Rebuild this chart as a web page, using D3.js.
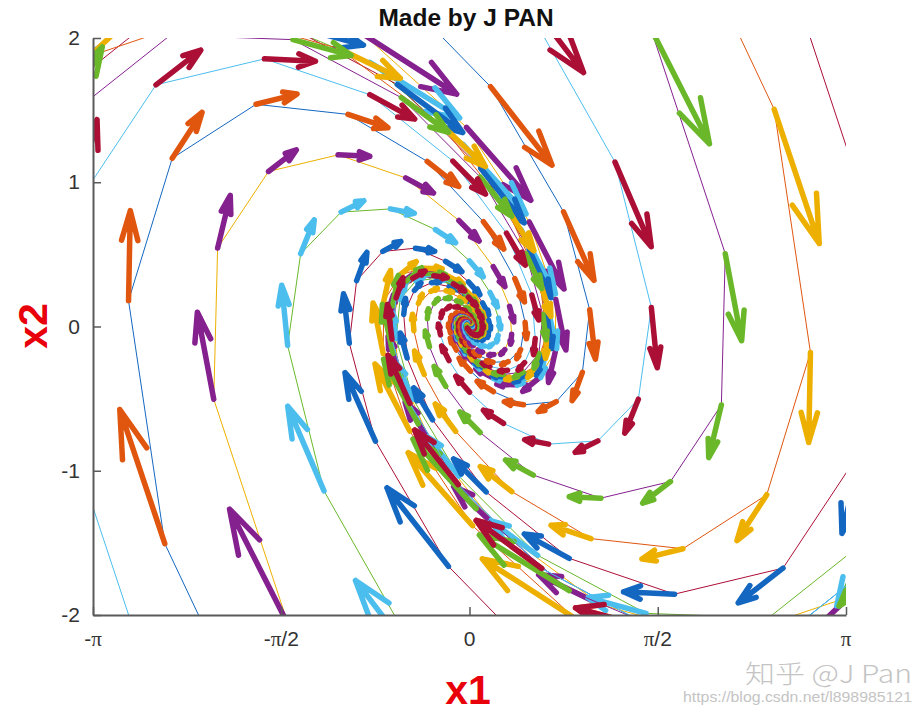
<!DOCTYPE html>
<html><head><meta charset="utf-8">
<script src="https://cdn.jsdelivr.net/npm/d3@7"></script>
<style>body{margin:0;background:#fff}svg{display:block}</style>
</head><body>
<svg id="chart" width="917" height="714"></svg>
<script>
// Phase portrait of x1' = x2 , x2' = -x1 - DAMP*x2, each trajectory sampled every DT up to T_END
const DAMP = 1.0;
const DT = 0.5;
const T_END = 10;
// initial states on a circle of radius START_R, at these angles (degrees); order gives the colour cycle
const START_R = 4;
const startAngleDeg = [0, 18, 36, 54, 72, 90, 108, 126, 144, 162, 180,
                       198, 216, 234, 252, 270, 288, 306, 324, 342, 360];
const xTicks = [-Math.PI, -Math.PI/2, 0, Math.PI/2, Math.PI];
const xTickLabels = ["-π", "-π/2", "0", "π/2", "π"];
const yTicks = [-2, -1, 0, 1, 2];
const titleText = "Made by J PAN";
const xLabel = "x1", yLabel = "x2";

const colors = ["#1467C0", "#E0560F", "#EDB000", "#85208F", "#6AB82A", "#4CBEEE", "#AC0F36"];

const svg = d3.select("#chart");
const L = 93, R = 846, T = 38, B = 615;
const x = d3.scaleLinear().domain([-Math.PI, Math.PI]).range([L, R]);
const y = d3.scaleLinear().domain([-2, 2]).range([B, T]);

function f(s){ return [s[1], -s[0] - DAMP*s[1]]; }
function step(s, h){
  const n = 100, dh = h/n; let p = s.slice();
  for(let i=0;i<n;i++){
    const k1=f(p), k2=f([p[0]+dh/2*k1[0], p[1]+dh/2*k1[1]]),
          k3=f([p[0]+dh/2*k2[0], p[1]+dh/2*k2[1]]), k4=f([p[0]+dh*k3[0], p[1]+dh*k3[1]]);
    p=[p[0]+dh/6*(k1[0]+2*k2[0]+2*k3[0]+k4[0]), p[1]+dh/6*(k1[1]+2*k2[1]+2*k3[1]+k4[1])];
  }
  return p;
}
function trajectory(s0){
  const pts=[s0.slice()]; let p=s0.slice();
  const nSteps = Math.round(T_END/DT);
  for(let i=0;i<nSteps;i++){ p=step(p,DT); pts.push(p); }
  return pts;
}
// MATLAB gradient(): central differences inside, one-sided at the ends
function gradient(a){
  const n=a.length;
  return a.map((v,i)=> i===0 ? a[1]-a[0] : i===n-1 ? a[n-1]-a[n-2] : (a[i+1]-a[i-1])/2);
}

svg.append("defs").append("clipPath").attr("id","clip")
  .append("rect").attr("x",L).attr("y",T).attr("width",R-L).attr("height",B-T);
const plot = svg.append("g").attr("clip-path","url(#clip)");

const alpha = 0.33, beta = 0.33;
startAngleDeg.forEach((deg,k)=>{
  const a = deg*Math.PI/180;
  const pts = trajectory([START_R*Math.cos(a), START_R*Math.sin(a)]);
  const lineColor = colors[(2*k)%7], arrowColor = colors[(2*k+1)%7];
  plot.append("path").attr("d", d3.line().x(d=>x(d[0])).y(d=>y(d[1]))(pts))
    .attr("fill","none").attr("stroke",lineColor).attr("stroke-width",1);
  const gu = gradient(pts.map(p=>p[0])), gv = gradient(pts.map(p=>p[1]));
  // MATLAB-style quiver autoscale for scattered points
  const n = Math.sqrt(pts.length);
  const ex = d3.extent(pts, p=>p[0]), ey = d3.extent(pts, p=>p[1]);
  const del = Math.pow((ex[1]-ex[0])/n,2) + Math.pow((ey[1]-ey[0])/n,2);
  const maxlen = d3.max(gu.map((u,i)=>Math.sqrt((u*u+gv[i]*gv[i])/del)));
  const sc = 0.9/maxlen;
  let d = "";
  pts.forEach((p,i)=>{
    const u = sc*gu[i], w = sc*gv[i];
    const tx = p[0]+u, ty = p[1]+w;
    const h1 = [tx - alpha*(u + beta*w), ty - alpha*(w - beta*u)];
    const h2 = [tx - alpha*(u - beta*w), ty - alpha*(w + beta*u)];
    d += `M${x(p[0])},${y(p[1])}L${x(tx)},${y(ty)}M${x(h1[0])},${y(h1[1])}L${x(tx)},${y(ty)}L${x(h2[0])},${y(h2[1])}`;
  });
  plot.append("path").attr("d", d).attr("fill","none").attr("stroke",arrowColor)
    .attr("stroke-width",5.5).attr("stroke-linecap","round").attr("stroke-linejoin","round");
});

// axes
const axisColor = "#5a5a5a";
const gx = svg.append("g").attr("transform",`translate(0,${B})`)
  .call(d3.axisBottom(x).tickValues(xTicks).tickSizeInner(-8).tickSizeOuter(0).tickFormat(""));
const gy = svg.append("g").attr("transform",`translate(${L},0)`)
  .call(d3.axisLeft(y).tickValues(yTicks).tickSizeInner(-8).tickSizeOuter(0).tickFormat(""));
[gx,gy].forEach(g=>{ g.select(".domain").attr("stroke",axisColor).attr("stroke-width",2);
  g.selectAll(".tick line").attr("stroke",axisColor).attr("stroke-width",1.5); });

const tickFont = "Liberation Sans, Arial, sans-serif";
xTicks.forEach((t,i)=>{
  const txt = svg.append("text").attr("x", x(t)).attr("y", 646).attr("text-anchor","middle")
    .attr("font-family",tickFont).attr("font-size",21).attr("fill","#333");
  xTickLabels[i].split(/(π)/).filter(s=>s).forEach(part=>{
    txt.append("tspan").text(part)
      .attr("font-family", part==="π" ? "Liberation Serif, serif" : tickFont);
  });
});
yTicks.forEach(t=>{
  svg.append("text").attr("x", 80).attr("y", y(t)+7).attr("text-anchor","end")
    .attr("font-family",tickFont).attr("font-size",21).attr("fill","#333").text(t);
});

svg.append("text").attr("x",466).attr("y",26).attr("text-anchor","middle")
  .attr("font-family",tickFont).attr("font-weight","bold").attr("font-size",24.5).attr("fill","#111").text(titleText);
svg.append("text").attr("x",468).attr("y",704).attr("text-anchor","middle")
  .attr("font-family",tickFont).attr("font-weight","bold").attr("font-size",41).attr("fill","#E8000B").text(xLabel);
svg.append("text").attr("transform","translate(47,326) rotate(-90)").attr("text-anchor","middle")
  .attr("font-family",tickFont).attr("font-weight","bold").attr("font-size",41).attr("fill","#E8000B").text(yLabel);

svg.append("text").attr("x",745).attr("y",683).attr("textLength",167).attr("lengthAdjust","spacingAndGlyphs")
  .attr("font-family","Noto Sans CJK SC, sans-serif").attr("font-weight",300).attr("font-size",25).attr("fill","#c4c4c4").text("知乎 @J Pan");
svg.append("text").attr("x",683).attr("y",702).attr("textLength",229).attr("lengthAdjust","spacingAndGlyphs")
  .attr("font-family",tickFont).attr("font-size",15).attr("fill","#c4c4c4").text("https://blog.csdn.net/l898985121");
</script>
</body></html>
